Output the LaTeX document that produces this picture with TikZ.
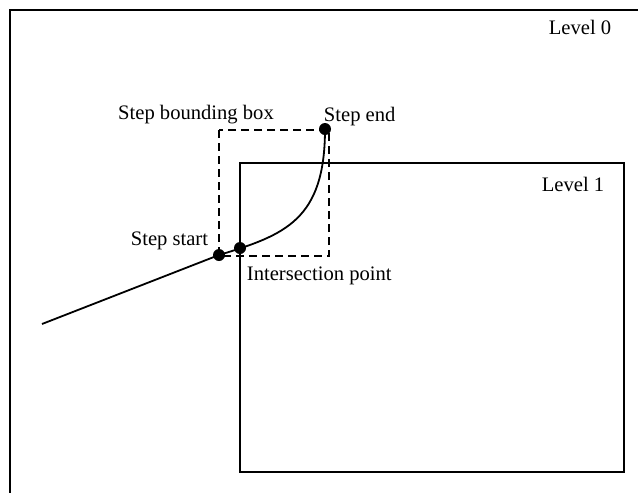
\documentclass[tikz,border=0pt]{standalone}
\usepackage{fontspec}
\setmainfont{Liberation Serif}
\usepackage{tikz}
\usetikzlibrary{positioning,calc}

\tikzset{
  levelbox/.style={line width=1pt},
  stepline/.style={line width=0.9pt},
  bbox/.style={line width=0.9pt,dash pattern=on 4pt off 2.5pt},
  dot/.style={circle,fill=black,inner sep=0pt,minimum size=6pt},
  lbl/.style={inner sep=1pt,font=\fontsize{10.3}{12}\selectfont}
}

\begin{document}
\begin{tikzpicture}[x=0.5pt,y=-0.5pt]
            \useasboundingbox (0, 0) rectangle (638, 493);
            \clip (0, 0) rectangle (638, 493);

            % Level boxes
            \draw[levelbox] (10, 10) rectangle (660, 520);
            \node[lbl] (lvl0) at (580, 27) {Level 0};
            \draw[levelbox] (240, 163) rectangle (624, 472);
            \node[lbl] (lvl1) at (573, 184) {Level 1};

            % Step bounding box
            \draw[bbox] (219, 130) rectangle (329, 256);
            \node[lbl] (bboxlabel) at (196, 115) {Step bounding box};

            % Step points
            \coordinate (tail) at (42, 324);
            \node[dot] (start) at (219, 255) {};
            \node[dot] (inter) at (240, 248) {};
            \node[dot] (stepend) at (325, 129) {};

            % Track
            \draw[stepline] (tail) -- (start.center);
            \draw[stepline] (start.center) .. controls (285, 235) and (325, 220) .. (stepend.center);

            % Labels
            \node[lbl,above left=-1pt and 2pt of start] (startlabel) {Step start};
            \node[lbl,above right=-2pt and -4pt of stepend] (endlabel) {Step end};
            \node[lbl,below right=6pt and 0pt of inter] (interlabel) {Intersection point};
\end{tikzpicture}
\end{document}
